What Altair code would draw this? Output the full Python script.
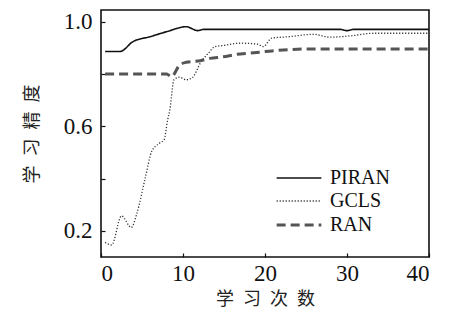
import altair as alt
import pandas as pd

piran_x = [0.5, 2.3, 3.9, 6.0, 8.0, 10.4, 11.8, 12.5, 29.1, 30.0, 30.8, 40.0]
piran_y = [0.886, 0.886, 0.924, 0.943, 0.962, 0.981, 0.966, 0.971, 0.971, 0.966, 0.971, 0.971]

gcls_x = [0.5, 1.3, 2.5, 3.7, 4.35, 5.4, 6.2, 7.2, 7.7, 8.1, 8.4, 8.9, 9.6, 10.4, 11.2, 12.1,
          13.1, 13.9, 14.9, 17.0, 19.0, 19.8, 20.8, 23.0, 25.9, 27.9, 30.4, 33.2, 40.0]
gcls_y = [0.156, 0.146, 0.257, 0.213, 0.264, 0.403, 0.505, 0.537, 0.549, 0.62, 0.664, 0.778,
          0.788, 0.778, 0.788, 0.841, 0.88, 0.905, 0.909, 0.918, 0.915, 0.905, 0.937, 0.943,
          0.952, 0.941, 0.946, 0.956, 0.956]

ran_x = [0.5, 8.0, 8.6, 9.6, 10.4, 12.1, 13.3, 14.9, 16.5, 18.2, 21.4, 25.5, 40.0]
ran_y = [0.80, 0.80, 0.79, 0.835, 0.845, 0.851, 0.86, 0.866, 0.875, 0.88, 0.89, 0.896, 0.896]

series = ["PIRAN", "GCLS", "RAN"]
x_ticks = [0, 10, 20, 30, 40]
y_ticks = [0.2, 0.4, 0.6, 0.8, 1.0]

rows = []
for name, xs, ys in [("PIRAN", piran_x, piran_y), ("GCLS", gcls_x, gcls_y), ("RAN", ran_x, ran_y)]:
    for i, (a, b) in enumerate(zip(xs, ys)):
        rows.append({"s": name, "x": a, "y": b, "i": i})
df = pd.DataFrame(rows)

serif = "Times New Roman"
cjk = "Noto Sans CJK SC"

legend = alt.Legend(
    title=None, orient="none", legendX=185, legendY=156,
    symbolType="M-2,0L2,0", symbolSize=500, labelFont=serif, labelFontSize=20,
    labelColor="#111", labelOffset=18, rowPadding=1, symbolStrokeColor="#111",
)

chart = alt.Chart(df).mark_line(interpolate="monotone").encode(
    x=alt.X("x:Q", scale=alt.Scale(domain=[0, 40], nice=False),
            axis=alt.Axis(values=x_ticks, title="学\u2002习\u2002次\u2002数", format="d",
                          labelFont=serif, labelFontSize=23, labelColor="#111",
                          titleFont=cjk, titleFontSize=18, titleFontWeight="normal", titleColor="#222",
                          offset=-4, tickSize=4, domain=False, grid=False,
                          labelPadding=5, titlePadding=5)),
    y=alt.Y("y:Q", scale=alt.Scale(domain=[0.1, 1.045], nice=False, zero=False),
            axis=alt.Axis(values=y_ticks, title="学\u2002习\u2002精\u2002度",
                          labelFont=serif, labelFontSize=23, labelColor="#111",
                          titleFont=cjk, titleFontSize=18, titleFontWeight="normal", titleColor="#222",
                          labelExpr="(round(datum.value*10)%4==2) ? format(datum.value,'.1f') : ''",
                          offset=-4, tickSize=4, domain=False, grid=False,
                          labelPadding=9, titlePadding=22)),
    order="i:Q",
    color=alt.Color("s:N", scale=alt.Scale(domain=series, range=["#111111", "#333333", "#555555"]), legend=legend),
    strokeDash=alt.StrokeDash("s:N", scale=alt.Scale(domain=series, range=[[1, 0], [1.2, 1.8], [9, 5]]), legend=legend),
    strokeWidth=alt.StrokeWidth("s:N", scale=alt.Scale(type="ordinal", domain=series, range=[1.6, 1.3, 3.0]), legend=legend),
).properties(
    width=328, height=247,
    background="white",
    autosize=alt.AutoSizeParams(type="none"),
    padding={"left": 93, "top": 2, "right": 12, "bottom": 54},
).configure(
    font=serif
).configure_view(
    stroke="#111", strokeWidth=1.6
).configure_axis(
    labelFont=serif, tickColor="#111", tickWidth=1.2,
)

chart.save("out.html", embed_options={"renderer": "svg", "actions": False})
